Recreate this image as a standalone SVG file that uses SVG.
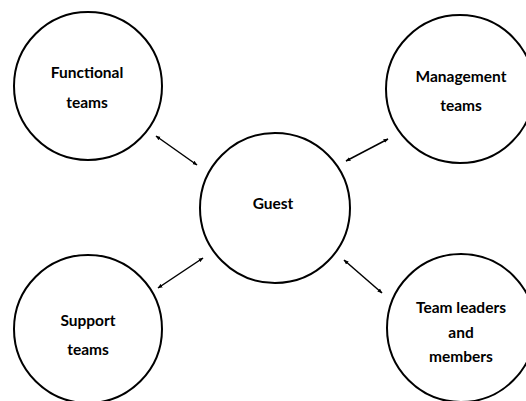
<svg xmlns="http://www.w3.org/2000/svg" width="526" height="401" viewBox="0 0 526 401">
<style>
.node circle{fill:#fff;stroke:#000;stroke-width:2}
.node text{font-family:Lato,"Open Sans",sans-serif;font-weight:bold;font-size:15.5px;fill:#000;text-anchor:middle}
.conn line{stroke:#000;stroke-width:1.5}
</style>
<defs>
<marker id="ah" viewBox="0 0 10 10" refX="9" refY="5" markerWidth="5" markerHeight="5" orient="auto-start-reverse" markerUnits="userSpaceOnUse">
<path d="M0,1 L10,5 L0,9 z" fill="#000"/>
</marker>
</defs>
<rect width="526" height="401" fill="#fff"/>
<g id="functional" class="node">
<circle cx="88" cy="86" r="74"/>
<text x="87" y="78">Functional</text>
<text x="87" y="108">teams</text>
</g>
<g id="management" class="node">
<circle cx="460" cy="89" r="74"/>
<text x="461" y="82">Management</text>
<text x="461" y="111">teams</text>
</g>
<g id="guest" class="node">
<circle cx="275" cy="208" r="75"/>
<text x="273" y="209">Guest</text>
</g>
<g id="support" class="node">
<circle cx="88" cy="329" r="74"/>
<text x="88" y="326">Support</text>
<text x="88" y="355">teams</text>
</g>
<g id="teamleaders" class="node">
<circle cx="461" cy="328" r="74"/>
<text x="461" y="313">Team leaders</text>
<text x="461" y="338">and</text>
<text x="461" y="362">members</text>
</g>
<g id="connectors" class="conn">
<line x1="156" y1="136" x2="197" y2="165" marker-start="url(#ah)" marker-end="url(#ah)"/>
<line x1="388" y1="139" x2="346" y2="161" marker-start="url(#ah)" marker-end="url(#ah)"/>
<line x1="203" y1="258" x2="158" y2="288" marker-start="url(#ah)" marker-end="url(#ah)"/>
<line x1="344" y1="260" x2="382" y2="293" marker-start="url(#ah)" marker-end="url(#ah)"/>
</g>
</svg>
